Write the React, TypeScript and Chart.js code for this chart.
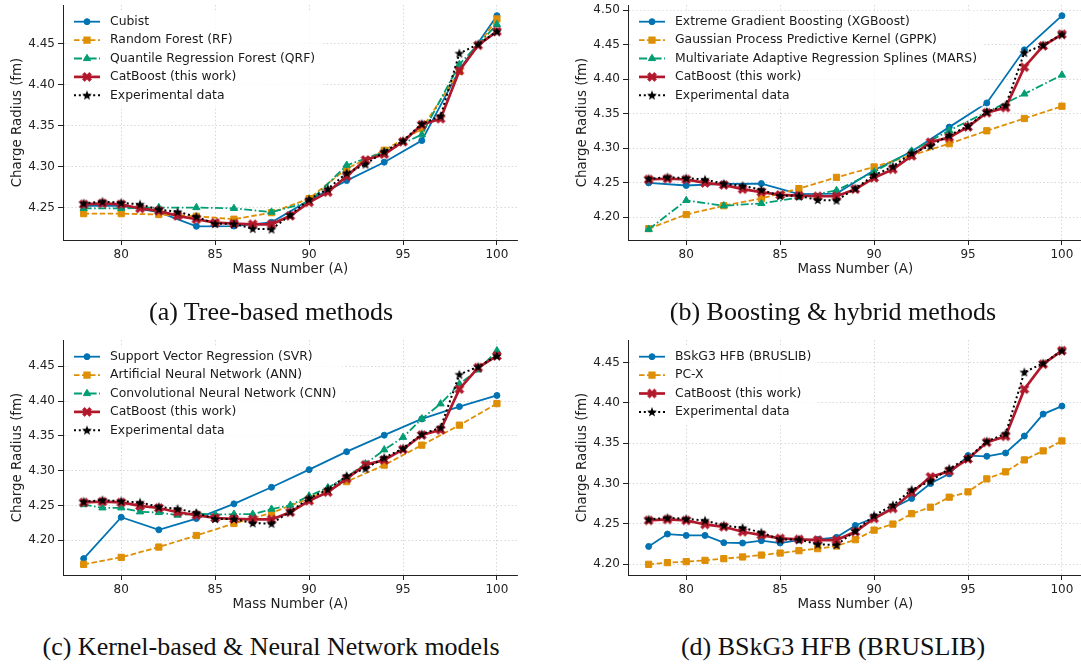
import React, { useEffect, useRef } from 'react';
import { Chart, registerables } from 'chart.js';

Chart.register(...registerables);
Chart.defaults.font.family = '"DejaVu Sans", sans-serif';

// ---------------- data ----------------
const massAll = [78, 79, 80, 81, 82, 83, 84, 85, 86, 87, 88, 89, 90, 91, 92, 93, 94, 95, 96, 97, 98, 99, 100];
const massEven = [78, 80, 82, 84, 86, 88, 90, 92, 94, 96, 98, 100];

const expRadius = [4.2556, 4.2577, 4.2563, 4.2543, 4.2482, 4.2453, 4.2394, 4.2307, 4.2307, 4.2247, 4.2240, 4.2413, 4.2605, 4.2733, 4.2925, 4.3030, 4.3186, 4.3318, 4.3524, 4.3619, 4.4381, 4.4492, 4.4648];
const catboostRadius = [4.2544, 4.2556, 4.2544, 4.2494, 4.2465, 4.2404, 4.2362, 4.2321, 4.2309, 4.2301, 4.2301, 4.2404, 4.2568, 4.2692, 4.2886, 4.3084, 4.3154, 4.3306, 4.3512, 4.3586, 4.4171, 4.4480, 4.4648];

// (a) tree-based (even A)
const cubistRadius = [4.2525, 4.2525, 4.2450, 4.2277, 4.2280, 4.2325, 4.2593, 4.2833, 4.3057, 4.3320, 4.4180, 4.4840];
const rfRadius = [4.2431, 4.2431, 4.2420, 4.2399, 4.2363, 4.2443, 4.2614, 4.2978, 4.3202, 4.3465, 4.4163, 4.4800];
const qrfRadius = [4.2495, 4.2495, 4.2505, 4.2505, 4.2495, 4.2450, 4.2570, 4.3020, 4.3180, 4.3392, 4.4248, 4.4734];

// (b) boosting & hybrid (even A)
const xgbRadius = [4.2495, 4.2457, 4.2480, 4.2485, 4.2333, 4.2340, 4.2678, 4.2950, 4.3303, 4.3654, 4.4423, 4.4918];
const gppkRadius = [4.1832, 4.2036, 4.2164, 4.2270, 4.2412, 4.2575, 4.2726, 4.2894, 4.3063, 4.3250, 4.3428, 4.3606];
const marsRadius = [4.1822, 4.2240, 4.2164, 4.2197, 4.2282, 4.2385, 4.2654, 4.2957, 4.3255, 4.3520, 4.3784, 4.4058];

// (c) kernel & neural network
const svrRadius = [4.1738, 4.2332, 4.2151, 4.2313, 4.2524, 4.2762, 4.3015, 4.3273, 4.3510, 4.3744, 4.3920, 4.4080];
const annRadius = [4.1656, 4.1756, 4.1904, 4.2070, 4.2242, 4.2395, 4.2600, 4.2843, 4.3080, 4.3367, 4.3654, 4.3964];
const cnnRadius = [4.2514, 4.2467, 4.2467, 4.2410, 4.2400, 4.2362, 4.2386, 4.2370, 4.2376, 4.2376, 4.2448, 4.2505, 4.2638, 4.2757, 4.2910, 4.3100, 4.3300, 4.3480, 4.3745, 4.3960, 4.4246, 4.4447, 4.4723];

// (d) BSkG3 HFB
const bskg3Radius = [4.2222, 4.2375, 4.2358, 4.2358, 4.2268, 4.2264, 4.2293, 4.2264, 4.2301, 4.2309, 4.2334, 4.2482, 4.2577, 4.2700, 4.2816, 4.3001, 4.3121, 4.3348, 4.3339, 4.3380, 4.3590, 4.3862, 4.3961];
const pcxRadius = [4.2000, 4.2021, 4.2033, 4.2049, 4.2070, 4.2091, 4.2115, 4.2140, 4.2169, 4.2194, 4.2227, 4.2305, 4.2424, 4.2499, 4.2627, 4.2708, 4.2832, 4.2898, 4.3059, 4.3146, 4.3294, 4.3406, 4.3529];

const xTicks = [80, 85, 90, 95, 100];
const yTicksA = [4.25, 4.30, 4.35, 4.40, 4.45];
const yTicksB = [4.20, 4.25, 4.30, 4.35, 4.40, 4.45, 4.50];
const yTicksC = [4.20, 4.25, 4.30, 4.35, 4.40, 4.45];
const yTicksD = [4.20, 4.25, 4.30, 4.35, 4.40, 4.45];

const captions = ['(a) Tree-based methods', '(b) Boosting & hybrid methods', '(c) Kernel-based & Neural Network models', '(d) BSkG3 HFB (BRUSLIB)'];

// ---------------- styles ----------------
const BLUE = '#0173b2';
const ORANGE = '#de8f05';
const GREEN = '#029e73';
const RED = '#b2182b';
const BLACK = '#000000';

type Marker = 'circle' | 'rect' | 'triangle' | 'x' | 'star';
interface Series { label: string; xs: number[]; ys: number[]; color: string; lw: number; dash: number[]; marker: Marker; }

const blueStyle = { color: BLUE, lw: 1.8, dash: [] as number[], marker: 'circle' as Marker };
const orangeStyle = { color: ORANGE, lw: 1.8, dash: [5.5, 2.5], marker: 'rect' as Marker };
const greenStyle = { color: GREEN, lw: 1.8, dash: [8, 2.5, 1.6, 2.5], marker: 'triangle' as Marker };
const catStyle = { color: RED, lw: 2.7, dash: [] as number[], marker: 'x' as Marker };
const expStyle = { color: BLACK, lw: 2, dash: [2, 2.8], marker: 'star' as Marker };

const catSeries: Series = { label: 'CatBoost (this work)', xs: massAll, ys: catboostRadius, ...catStyle };
const expSeries: Series = { label: 'Experimental data', xs: massAll, ys: expRadius, ...expStyle };

interface PanelCfg { series: Series[]; yTicks: number[]; left: number; top: number; caption: string; capX: number; capY: number; }

const panels: PanelCfg[] = [
  {
    series: [
      { label: 'Cubist', xs: massEven, ys: cubistRadius, ...blueStyle },
      { label: 'Random Forest (RF)', xs: massEven, ys: rfRadius, ...orangeStyle },
      { label: 'Quantile Regression Forest (QRF)', xs: massEven, ys: qrfRadius, ...greenStyle },
      catSeries, expSeries,
    ],
    yTicks: yTicksA, left: 0, top: -10, caption: captions[0], capX: 271, capY: 312,
  },
  {
    series: [
      { label: 'Extreme Gradient Boosting (XGBoost)', xs: massEven, ys: xgbRadius, ...blueStyle },
      { label: 'Gaussian Process Predictive Kernel (GPPK)', xs: massEven, ys: gppkRadius, ...orangeStyle },
      { label: 'Multivariate Adaptive Regression Splines (MARS)', xs: massEven, ys: marsRadius, ...greenStyle },
      catSeries, expSeries,
    ],
    yTicks: yTicksB, left: 565, top: -10, caption: captions[1], capX: 833, capY: 312,
  },
  {
    series: [
      { label: 'Support Vector Regression (SVR)', xs: massEven, ys: svrRadius, ...blueStyle },
      { label: 'Artificial Neural Network (ANN)', xs: massEven, ys: annRadius, ...orangeStyle },
      { label: 'Convolutional Neural Network (CNN)', xs: massAll, ys: cnnRadius, ...greenStyle },
      catSeries, expSeries,
    ],
    yTicks: yTicksC, left: 0, top: 325, caption: captions[2], capX: 271, capY: 646.5,
  },
  {
    series: [
      { label: 'BSkG3 HFB (BRUSLIB)', xs: massAll, ys: bskg3Radius, ...blueStyle },
      { label: 'PC-X', xs: massAll, ys: pcxRadius, ...orangeStyle },
      catSeries, expSeries,
    ],
    yTicks: yTicksD, left: 565, top: 325, caption: captions[3], capX: 833, capY: 646.5,
  },
];

const CANVAS_W = 523;
const CANVAS_H = 290;
const Y_AXIS_W = 63;
const X_AXIS_H = 40;
const PAD_TOP = 15;

function makeX(color: string): HTMLCanvasElement {
  const c = document.createElement('canvas');
  c.width = 14; c.height = 14;
  const g = c.getContext('2d')!;
  g.translate(7, 7);
  g.rotate(Math.PI / 4);
  const s = 4.8, w = 1.5;
  const pts = [[w, s], [w, w], [s, w], [s, -w], [w, -w], [w, -s], [-w, -s], [-w, -w], [-s, -w], [-s, w], [-w, w], [-w, s]];
  g.beginPath();
  pts.forEach(([x, y], i) => (i ? g.lineTo(x, y) : g.moveTo(x, y)));
  g.closePath();
  g.fillStyle = color; g.fill();
  g.strokeStyle = color; g.lineWidth = 0.8; g.stroke();
  return c;
}

function makeStar(color: string): HTMLCanvasElement {
  const c = document.createElement('canvas');
  c.width = 14; c.height = 14;
  const g = c.getContext('2d')!;
  g.translate(7, 7.3);
  g.beginPath();
  for (let i = 0; i < 10; i++) {
    const a = -Math.PI / 2 + (i * Math.PI) / 5;
    const r = i % 2 ? 2.1 : 5.2;
    const x = r * Math.cos(a), y = r * Math.sin(a);
    i ? g.lineTo(x, y) : g.moveTo(x, y);
  }
  g.closePath();
  g.fillStyle = color; g.fill();
  return c;
}

function drawMarker(ctx: CanvasRenderingContext2D, s: Series, x: number, y: number, imgs: Record<string, HTMLCanvasElement>) {
  ctx.save();
  ctx.fillStyle = s.color;
  ctx.strokeStyle = s.color;
  ctx.lineWidth = 1;
  ctx.setLineDash([]);
  if (s.marker === 'circle') {
    ctx.beginPath(); ctx.arc(x, y, 3, 0, Math.PI * 2); ctx.fill(); ctx.stroke();
  } else if (s.marker === 'rect') {
    ctx.fillRect(x - 3.1, y - 3.1, 6.2, 6.2); ctx.strokeRect(x - 3.1, y - 3.1, 6.2, 6.2);
  } else if (s.marker === 'triangle') {
    const r = 4.2;
    ctx.beginPath();
    ctx.moveTo(x, y - r);
    ctx.lineTo(x + r * Math.sin((2 * Math.PI) / 3), y - r * Math.cos((2 * Math.PI) / 3));
    ctx.lineTo(x + r * Math.sin((4 * Math.PI) / 3), y - r * Math.cos((4 * Math.PI) / 3));
    ctx.closePath(); ctx.fill(); ctx.stroke();
  } else {
    const img = imgs[s.marker];
    ctx.drawImage(img, x - img.width / 2, y - img.height / 2);
  }
  ctx.restore();
}

function Panel({ cfg }: { cfg: PanelCfg }) {
  const ref = useRef<HTMLCanvasElement>(null);
  useEffect(() => {
    const imgs: Record<string, HTMLCanvasElement> = { x: makeX(RED), star: makeStar(BLACK) };
    const allY = cfg.series.flatMap((s) => s.ys);
    const lo = Math.min(...allY), hi = Math.max(...allY);
    const yPad = (hi - lo) * 0.05;
    const xLo = massAll[0], xHi = massAll[massAll.length - 1];
    const xPad = (xHi - xLo) * 0.05;

    const datasets = cfg.series.map((s, i) => {
      const n = cfg.series.length;
      const style: any =
        s.marker === 'circle' ? 'circle' : s.marker === 'rect' ? 'rect' : s.marker === 'triangle' ? 'triangle' : imgs[s.marker];
      const radius = s.marker === 'circle' ? 3 : s.marker === 'rect' ? 4.4 : s.marker === 'triangle' ? 4.2 : 4;
      return {
        label: s.label,
        data: s.xs.map((x, k) => ({ x, y: s.ys[k] })),
        borderColor: s.color,
        backgroundColor: s.color,
        borderWidth: s.lw,
        borderDash: s.dash,
        borderCapStyle: 'butt' as const,
        pointStyle: style,
        pointRadius: radius,
        pointHoverRadius: radius,
        pointBorderWidth: 1,
        pointBorderColor: s.color,
        pointBackgroundColor: s.color,
        tension: 0,
        fill: false,
        order: n - 1 - i,
      };
    });

    const legendPlugin = {
      id: 'innerLegend',
      afterDatasetsDraw(chart: any) {
        const ctx: CanvasRenderingContext2D = chart.ctx;
        const area = chart.chartArea;
        ctx.save();
        ctx.font = '12.4px "DejaVu Sans"';
        const x0 = area.left + 11;
        const tx = area.left + 47;
        const y0 = area.top + 16.7;
        const dy = 18.4;
        let maxW = 0;
        cfg.series.forEach((s) => (maxW = Math.max(maxW, ctx.measureText(s.label).width)));
        ctx.fillStyle = 'rgba(255,255,255,0.8)';
        ctx.fillRect(area.left + 5, y0 - 11, tx + maxW + 6 - (area.left + 5), dy * (cfg.series.length - 1) + 22);
        cfg.series.forEach((s, i) => {
          const y = y0 + i * dy;
          ctx.save();
          ctx.strokeStyle = s.color;
          ctx.lineWidth = s.lw;
          ctx.setLineDash(s.dash);
          ctx.lineCap = 'butt';
          ctx.beginPath(); ctx.moveTo(x0, y); ctx.lineTo(x0 + 26, y); ctx.stroke();
          ctx.restore();
          drawMarker(ctx, s, x0 + 13, y, imgs);
          ctx.fillStyle = '#1a1a1a';
          ctx.textBaseline = 'middle';
          ctx.textAlign = 'left';
          ctx.fillText(s.label, tx, y);
        });
        ctx.restore();
      },
    };

    const gridCommon = {
      color: 'rgba(0,0,0,0.2)',
      lineWidth: 0.8,
      tickColor: '#222',
      tickLength: 5,
      tickWidth: 1,
      tickBorderDash: [] as number[],
    };
    const borderCommon = { display: true, color: '#222', width: 1, dash: [1.5, 2.2] };

    const chart = new Chart(ref.current!, {
      type: 'line',
      data: { datasets },
      options: {
        animation: false,
        responsive: false,
        devicePixelRatio: 1,
        layout: { padding: { top: PAD_TOP, left: 0, right: 0, bottom: 0 } },
        plugins: { legend: { display: false }, tooltip: { enabled: false } },
        scales: {
          x: {
            type: 'linear',
            min: xLo - xPad,
            max: xHi + xPad,
            grid: gridCommon,
            border: borderCommon,
            afterBuildTicks: (scale: any) => { scale.ticks = xTicks.map((v) => ({ value: v })); },
            afterFit: (scale: any) => { scale.height = X_AXIS_H; },
            ticks: { color: '#222', font: { size: 12 }, padding: 3, callback: (v: any) => String(v), maxRotation: 0 },
            title: { display: true, text: 'Mass Number (A)', color: '#222', font: { size: 13.4 }, padding: { top: 0, bottom: 2 } },
          },
          y: {
            type: 'linear',
            min: lo - yPad,
            max: hi + yPad,
            grid: gridCommon,
            border: borderCommon,
            afterBuildTicks: (scale: any) => { scale.ticks = cfg.yTicks.map((v) => ({ value: v })); },
            afterFit: (scale: any) => { scale.width = Y_AXIS_W; },
            ticks: { color: '#222', font: { size: 12 }, padding: 3, callback: (v: any) => Number(v).toFixed(2) },
            title: { display: true, text: 'Charge Radius (fm)', color: '#222', font: { size: 13.4 }, padding: { top: 9, bottom: 0 } },
          },
        },
      } as any,
      plugins: [legendPlugin],
    });
    return () => chart.destroy();
  }, [cfg]);

  return (
    <canvas
      ref={ref}
      width={CANVAS_W}
      height={CANVAS_H}
      style={{ position: 'absolute', left: cfg.left, top: cfg.top, width: CANVAS_W, height: CANVAS_H }}
    />
  );
}

export default function App() {
  return (
    <div style={{ position: 'fixed', left: 0, top: 0, width: 1081, height: 666, overflow: 'hidden', background: '#fff' }}>
      {panels.map((p, i) => (
        <Panel key={i} cfg={p} />
      ))}
      {panels.map((p, i) => (
        <div
          key={'c' + i}
          style={{
            position: 'absolute',
            left: p.capX - 300,
            top: p.capY - 15,
            width: 600,
            height: 30,
            lineHeight: '30px',
            textAlign: 'center',
            fontFamily: '"Liberation Serif", serif',
            fontSize: 26,
            color: '#111',
            whiteSpace: 'nowrap',
          }}
        >
          {p.caption}
        </div>
      ))}
    </div>
  );
}
